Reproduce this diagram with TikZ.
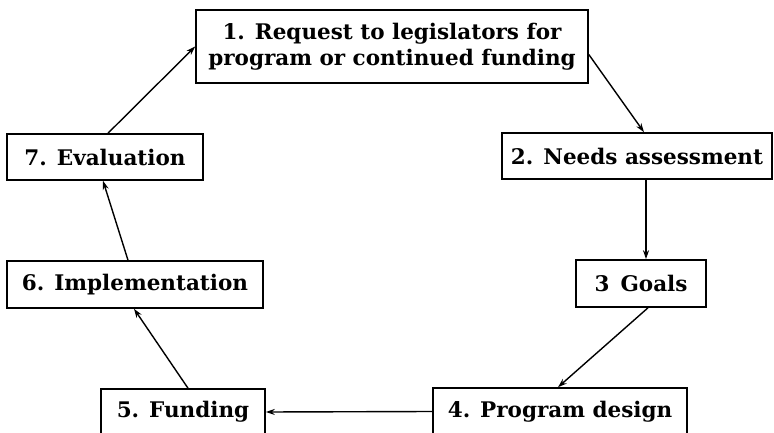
\documentclass[tikz,border=0pt]{standalone}
\usepackage{fontspec}
\setmainfont{DejaVu Serif}
\usetikzlibrary{arrows.meta}
\begin{document}
\begin{tikzpicture}[x=1pt,y=-1pt,
  stagebox/.style={draw, line width=1.6pt, inner sep=0pt, align=center,
    font=\fontsize{21.5}{26}\selectfont\bfseries},
  flow/.style={line width=1.4pt, -{Stealth[length=9pt,width=6pt]}}]
\useasboundingbox (0,0) rectangle (774,433);
\clip (0,0) rectangle (774,433);
% the seven stages of the cycle
\node[stagebox, minimum width=392pt, minimum height=73pt] (b1) at (392,46.5)
  {1. Request to legislators for\\program or continued funding};
\node[stagebox, minimum width=270pt, minimum height=46pt] (b2) at (637,156)
  {2. Needs assessment};
\node[stagebox, minimum width=130pt, minimum height=47pt] (b3) at (641,283.5)
  {3\, Goals};
\node[stagebox, minimum width=254pt, minimum height=47pt] (b4) at (560,411.5)
  {4. Program design};
\node[stagebox, minimum width=164pt, minimum height=46pt] (b5) at (183,412)
  {5. Funding};
\node[stagebox, minimum width=256pt, minimum height=47pt] (b6) at (135,284.5)
  {6. Implementation};
\node[stagebox, minimum width=196pt, minimum height=46pt] (b7) at (105,157)
  {7. Evaluation};
% connectors around the cycle
\draw[flow] ([yshift=-8pt]b1.east) -- ([xshift=7pt]b2.north);
\draw[flow] ([xshift=9pt]b2.south) -- ([xshift=5pt]b3.north);
\draw[flow] ([xshift=7pt]b3.south) -- ([xshift=-2pt]b4.north);
\draw[flow] (b4.west) -- (b5.east);
\draw[flow] ([xshift=5pt]b5.north) -- ([xshift=-1pt]b6.south);
\draw[flow] ([xshift=-7pt]b6.north) -- ([xshift=-2pt]b7.south);
\draw[flow] ([xshift=3pt]b7.north) -- (b1.west);
\end{tikzpicture}
\end{document}
